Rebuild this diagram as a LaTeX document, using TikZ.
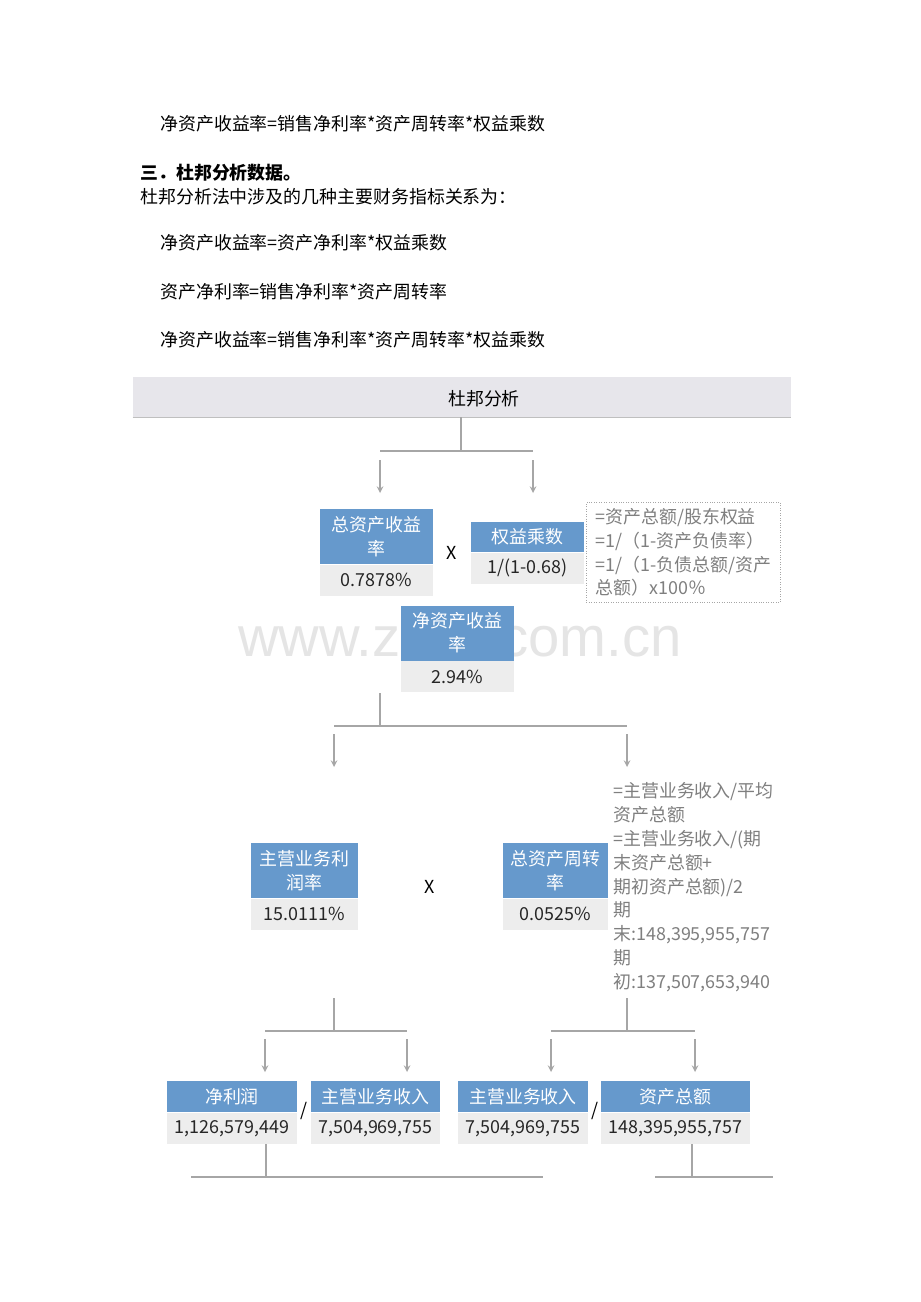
\documentclass[tikz,border=0pt]{standalone}
\usepackage{fontspec}
\setmainfont{Noto Sans CJK SC}
\newfontfamily\markfont{Liberation Sans}
\usetikzlibrary{arrows,positioning}
\usepackage{xcolor}
\definecolor{boxblue}{HTML}{6699CC}
\definecolor{boxgray}{HTML}{EDEDED}
\definecolor{hdrgray}{HTML}{E7E6EB}
\definecolor{linegray}{HTML}{A6A6A6}
\definecolor{notegray}{HTML}{7F7F7F}
\newcommand{\diagfont}{\fontsize{10.2pt}{13.6pt}\selectfont}
\tikzstyle{arrow} = [linegray,line width=0.7pt,->,>=stealth]
\tikzstyle{branch} = [linegray,line width=0.7pt]
\tikzstyle{titlebox} = [fill=boxblue,text=white,align=center,inner sep=0pt]
\tikzstyle{valuebox} = [fill=boxgray,text=black!85,inner sep=0pt,minimum height=0.62cm]
\tikzstyle{bodytext} = [anchor=west,inner sep=0pt]
\tikzstyle{notetext} = [text=notegray,align=left,inner sep=0pt,anchor=north west]

\begin{document}
\begin{tikzpicture}[x=0.02cm,y=-0.02cm,font=\diagfont]
  \useasboundingbox (0,0) rectangle (920,1302);
  \fill[white] (0,0) rectangle (920,1302);

  % Text above the chart
  \node[bodytext] (eqa) at (160,124) {净资产收益率=销售净利率*资产周转率*权益乘数};
  \node[bodytext,font=\diagfont\bfseries] (sec3) at (140,173) {三．杜邦分析数据。};
  \node[bodytext] (intro) at (140,197) {杜邦分析法中涉及的几种主要财务指标关系为：};
  \node[bodytext] (eqb) at (160,243) {净资产收益率=资产净利率*权益乘数};
  \node[bodytext] (eqc) at (160,292) {资产净利率=销售净利率*资产周转率};
  \node[bodytext] (eqd) at (160,340) {净资产收益率=销售净利率*资产周转率*权益乘数};

  % Watermark (behind the boxes)
  \node[font=\markfont\fontsize{32pt}{32pt}\selectfont,text=black!10] (mark) at (460,636) {www.zixin.com.cn};

  % Header bar
  \node[fill=hdrgray,minimum width=13.16cm,minimum height=0.8cm,inner sep=0pt] (hdr) at (462,397) {};
  \draw[black!25,line width=0.7pt] (hdr.south west) -- (hdr.south east);
  \node (hdrtext) at (484,399) {杜邦分析};

  % First split
  \coordinate (ja) at (461,451);
  \coordinate (jal) at (380,451);
  \coordinate (jar) at (533,451);
  \draw[branch] (hdr.south -| ja) -- (ja);
  \draw[branch] (jal) -- (jar);
  \draw[arrow] ([yshift=-0.18cm]jal) -- ([yshift=-0.84cm]jal);
  \draw[arrow] ([yshift=-0.18cm]jar) -- ([yshift=-0.84cm]jar);

  % Total assets return and equity multiplier
  \node[titlebox,minimum width=2.26cm,minimum height=1.1cm] (zcsy) at (376.5,536.5) {总资产收益\\率};
  \node[valuebox,minimum width=2.26cm,below=0pt of zcsy] (zcsyv) {0.7878\%};
  \node (timesa) at (452,553) {X};
  \node[titlebox,minimum width=2.26cm,minimum height=0.6cm] (qycs) at (527.5,537) {权益乘数};
  \node[valuebox,minimum width=2.26cm,below=0pt of qycs] (qycsv) {1/(1-0.68)};
  \node[notetext,draw=black!35,densely dotted,anchor=north west,minimum width=3.88cm,
        minimum height=2cm,inner xsep=0.05cm] (notea) at (586,502)
  {=资产总额/股东权益\\=1/（1-资产负债率）\\=1/（1-负债总额/资产\\总额）x100％};

  % Return on equity
  \node[titlebox,minimum width=2.26cm,minimum height=1.1cm] (jzcsy) at (457.5,633) {净资产收益\\率};
  \node[valuebox,minimum width=2.26cm,below=0pt of jzcsy] (jzcsyv) {2.94\%};

  % Second split
  \coordinate (jb) at (380,726);
  \coordinate (jbl) at (334,726);
  \coordinate (jbr) at (627,726);
  \draw[branch] ([yshift=0.66cm]jb) -- (jb);
  \draw[branch] (jbl) -- (jbr);
  \draw[arrow] ([yshift=-0.16cm]jbl) -- ([yshift=-0.82cm]jbl);
  \draw[arrow] ([yshift=-0.16cm]jbr) -- ([yshift=-0.82cm]jbr);

  % Profit margin and asset turnover
  \node[titlebox,minimum width=2.14cm,minimum height=1.1cm] (zyyl) at (304.5,870.5) {主营业务利\\润率};
  \node[valuebox,minimum width=2.14cm,below=0pt of zyyl] (zyylv) {15.0111\%};
  \node (timesb) at (430,887) {X};
  \node[titlebox,minimum width=2.1cm,minimum height=1.1cm] (zzczz) at (555.5,870.5) {总资产周转\\率};
  \node[valuebox,minimum width=2.1cm,below=0pt of zzczz] (zzczzv) {0.0525\%};
  \node[notetext] (noteb) at (613,782)
  {=主营业务收入/平均\\资产总额\\=主营业务收入/(期\\末资产总额+\\期初资产总额)/2\\期\\末:148,395,955,757\\期\\初:137,507,653,940};

  % Third level splits
  \coordinate (jc) at (334,1031);
  \coordinate (jcl) at (265,1031);
  \coordinate (jcr) at (407,1031);
  \draw[branch] ([yshift=0.66cm]jc) -- (jc);
  \draw[branch] (jcl) -- (jcr);
  \draw[arrow] ([yshift=-0.16cm]jcl) -- ([yshift=-0.82cm]jcl);
  \draw[arrow] ([yshift=-0.16cm]jcr) -- ([yshift=-0.82cm]jcr);
  \coordinate (jd) at (627,1031);
  \coordinate (jdl) at (551,1031);
  \coordinate (jdr) at (695,1031);
  \draw[branch] ([yshift=0.66cm]jd) -- (jd);
  \draw[branch] (jdl) -- (jdr);
  \draw[arrow] ([yshift=-0.16cm]jdl) -- ([yshift=-0.82cm]jdl);
  \draw[arrow] ([yshift=-0.16cm]jdr) -- ([yshift=-0.82cm]jdr);

  % Bottom row
  \node[titlebox,minimum width=2.6cm,minimum height=0.62cm] (jlr) at (232,1096.5) {净利润};
  \node[valuebox,minimum width=2.6cm,below=0pt of jlr] (jlrv) {1,126,579,449};
  \node (slasha) at (304,1111) {/};
  \node[titlebox,minimum width=2.58cm,minimum height=0.62cm] (zysra) at (375.5,1096.5) {主营业务收入};
  \node[valuebox,minimum width=2.58cm,below=0pt of zysra] (zysrav) {7,504,969,755};
  \node[titlebox,minimum width=2.6cm,minimum height=0.62cm] (zysrb) at (523,1096.5) {主营业务收入};
  \node[valuebox,minimum width=2.6cm,below=0pt of zysrb] (zysrbv) {7,504,969,755};
  \node (slashb) at (595,1111) {/};
  \node[titlebox,minimum width=2.98cm,minimum height=0.62cm] (zcze) at (675.5,1096.5) {资产总额};
  \node[valuebox,minimum width=2.98cm,below=0pt of zcze] (zczev) {148,395,955,757};

  % Lines below the bottom row
  \coordinate (je) at (266,1177);
  \draw[branch] (je |- jlrv.south) -- (je);
  \draw[branch] (191,1177) -- (543,1177);
  \coordinate (jf) at (692,1177);
  \draw[branch] (jf |- zczev.south) -- (jf);
  \draw[branch] (655,1177) -- (773,1177);
\end{tikzpicture}
\end{document}
